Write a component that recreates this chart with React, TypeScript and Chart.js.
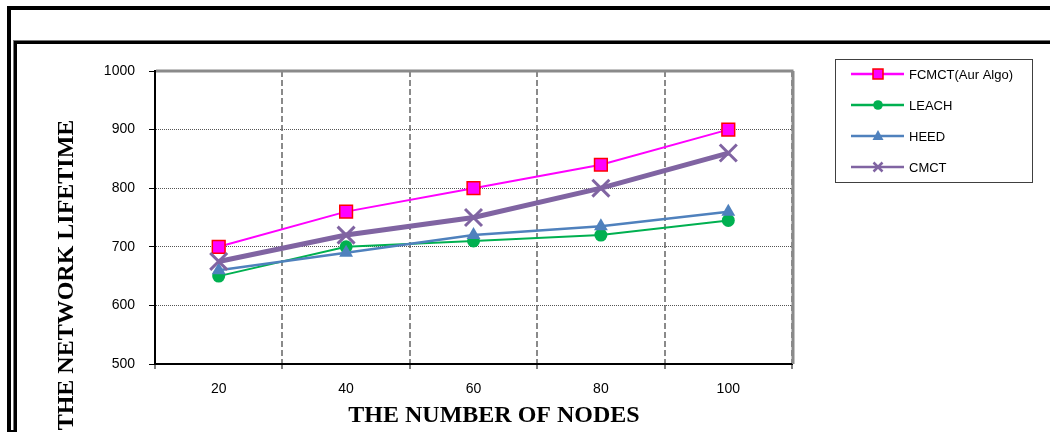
import React, { useEffect, useRef } from 'react';
import { Chart, registerables } from 'chart.js';

Chart.register(...registerables);

// ---- data ----
const nodeCounts = ['20', '40', '60', '80', '100'];
const fcmctValues = [700, 760, 800, 840, 900];
const leachValues = [650, 700, 710, 720, 745];
const heedValues = [660, 690, 720, 735, 760];
const cmctValues = [675, 720, 750, 800, 860];
const yTickValues = [500, 600, 700, 800, 900, 1000];
const seriesNames = ['FCMCT(Aur Algo)', 'LEACH', 'HEED', 'CMCT'];
const xTitle = 'THE NUMBER OF NODES';
const yTitle = 'THE NETWORK LIFETIME';

const W = 1050;
const H = 432;

const COLORS = {
  fcmct: '#FF00FF',
  fcmctEdge: '#FF0000',
  leach: '#00B050',
  heed: '#4F81BD',
  cmct: '#8064A2',
};

function drawMarker(ctx: CanvasRenderingContext2D, kind: string, x: number, y: number, fill: string, stroke: string) {
  ctx.save();
  if (kind === 'rect') {
    ctx.fillStyle = fill;
    ctx.strokeStyle = stroke;
    ctx.lineWidth = 1.5;
    ctx.fillRect(x - 5, y - 5, 10, 10);
    ctx.strokeRect(x - 5, y - 5, 10, 10);
  } else if (kind === 'circle') {
    ctx.fillStyle = fill;
    ctx.beginPath();
    ctx.arc(x, y, 4.8, 0, Math.PI * 2);
    ctx.fill();
  } else if (kind === 'triangle') {
    ctx.fillStyle = fill;
    ctx.beginPath();
    ctx.moveTo(x, y - 6);
    ctx.lineTo(x + 5.5, y + 4);
    ctx.lineTo(x - 5.5, y + 4);
    ctx.closePath();
    ctx.fill();
  } else if (kind === 'cross') {
    ctx.strokeStyle = stroke;
    ctx.lineWidth = 2.5;
    ctx.beginPath();
    ctx.moveTo(x - 4.5, y - 4.5);
    ctx.lineTo(x + 4.5, y + 4.5);
    ctx.moveTo(x + 4.5, y - 4.5);
    ctx.lineTo(x - 4.5, y + 4.5);
    ctx.stroke();
  }
  ctx.restore();
}

const framePlugin = {
  id: 'frames',
  beforeDraw(chart: any) {
    const ctx = chart.ctx as CanvasRenderingContext2D;
    ctx.save();
    ctx.fillStyle = '#ffffff';
    ctx.fillRect(0, 0, W, H);
    // outer frame
    ctx.fillStyle = '#000';
    ctx.fillRect(7, 6, W - 7, 4);
    ctx.fillRect(7, 6, 4, H - 6);
    // inner frame
    ctx.fillStyle = '#777';
    ctx.fillRect(13, 40, W - 13, 1);
    ctx.fillRect(13, 40, 1, H - 40);
    ctx.fillStyle = '#000';
    ctx.fillRect(14, 41, W - 14, 3);
    ctx.fillRect(14, 41, 3, H - 41);
    ctx.fillRect(7, 430, 10, 2);
    ctx.restore();
  },
  beforeDatasetsDraw(chart: any) {
    const ctx = chart.ctx as CanvasRenderingContext2D;
    const a = chart.chartArea;
    ctx.save();
    ctx.strokeStyle = '#8a8a8a';
    ctx.lineWidth = 3;
    ctx.beginPath();
    ctx.moveTo(a.left + 1, a.top);
    ctx.lineTo(a.right + 1.5, a.top);
    ctx.moveTo(a.right + 1, a.top);
    ctx.lineTo(a.right + 1, a.bottom);
    ctx.stroke();
    ctx.strokeStyle = '#000';
    ctx.lineWidth = 2;
    ctx.beginPath();
    ctx.moveTo(a.left, a.top - 1);
    ctx.lineTo(a.left, a.bottom + 1);
    ctx.moveTo(a.left, a.bottom);
    ctx.lineTo(a.right, a.bottom);
    ctx.stroke();
    ctx.restore();
  },
  afterDraw(chart: any) {
    const ctx = chart.ctx as CanvasRenderingContext2D;
    ctx.save();
    // axis titles
    ctx.fillStyle = '#000';
    ctx.font = 'bold 24px "Liberation Serif", "Times New Roman", serif';
    ctx.textAlign = 'center';
    ctx.textBaseline = 'alphabetic';
    ctx.fillText(xTitle, 494, 422);
    ctx.save();
    ctx.translate(73, 275);
    ctx.rotate(-Math.PI / 2);
    ctx.fillText(yTitle, 0, 0);
    ctx.restore();

    // legend
    ctx.strokeStyle = '#404040';
    ctx.lineWidth = 1;
    ctx.strokeRect(835.5, 59.5, 197, 123);
    const rows = [
      { name: seriesNames[0], color: COLORS.fcmct, kind: 'rect', fill: COLORS.fcmct, stroke: COLORS.fcmctEdge, lw: 2.5 },
      { name: seriesNames[1], color: COLORS.leach, kind: 'circle', fill: COLORS.leach, stroke: COLORS.leach, lw: 2.5 },
      { name: seriesNames[2], color: COLORS.heed, kind: 'triangle', fill: COLORS.heed, stroke: COLORS.heed, lw: 2.5 },
      { name: seriesNames[3], color: COLORS.cmct, kind: 'cross', fill: COLORS.cmct, stroke: COLORS.cmct, lw: 2.5 },
    ];
    const ys = [74, 105, 136, 167];
    rows.forEach((r, i) => {
      const y = ys[i];
      ctx.strokeStyle = r.color;
      ctx.lineWidth = r.lw;
      ctx.beginPath();
      ctx.moveTo(851, y);
      ctx.lineTo(904, y);
      ctx.stroke();
      drawMarker(ctx, r.kind, 878, y, r.fill, r.stroke);
      ctx.fillStyle = '#000';
      ctx.font = '13px "Liberation Sans", Arial, sans-serif';
      ctx.textAlign = 'left';
      ctx.textBaseline = 'middle';
      ctx.fillText(r.name, 909, y + 1);
    });
    ctx.restore();
  },
};

export default function App() {
  const ref = useRef<HTMLCanvasElement | null>(null);

  useEffect(() => {
    document.body.style.margin = '0';
    const canvas = ref.current;
    if (!canvas) return;
    const chart = new Chart(canvas, {
      type: 'line',
      data: {
        labels: nodeCounts,
        datasets: [
          {
            label: seriesNames[0],
            data: fcmctValues,
            borderColor: COLORS.fcmct,
            backgroundColor: COLORS.fcmct,
            borderWidth: 2,
            pointStyle: 'rect',
            pointRadius: 9,
            pointBackgroundColor: COLORS.fcmct,
            pointBorderColor: COLORS.fcmctEdge,
            pointBorderWidth: 1.5,
            tension: 0,
            order: 4,
          },
          {
            label: seriesNames[1],
            data: leachValues,
            borderColor: COLORS.leach,
            backgroundColor: COLORS.leach,
            borderWidth: 2,
            pointStyle: 'circle',
            pointRadius: 6.5,
            pointBorderWidth: 0,
            tension: 0,
            order: 3,
          },
          {
            label: seriesNames[2],
            data: heedValues,
            borderColor: COLORS.heed,
            backgroundColor: COLORS.heed,
            borderWidth: 2.5,
            pointStyle: 'triangle',
            pointRadius: 8,
            pointBorderWidth: 0,
            tension: 0,
            order: 2,
          },
          {
            label: seriesNames[3],
            data: cmctValues,
            borderColor: COLORS.cmct,
            backgroundColor: COLORS.cmct,
            borderWidth: 5,
            pointStyle: 'crossRot',
            pointRadius: 12,
            pointBorderWidth: 3,
            tension: 0,
            order: 1,
          },
        ],
      },
      options: {
        responsive: false,
        animation: false,
        devicePixelRatio: 1,
        layout: { padding: { left: 95, top: 71, right: 258, bottom: 28 } },
        plugins: {
          legend: { display: false },
          tooltip: { enabled: false },
          title: { display: false },
        },
        scales: {
          x: {
            type: 'category',
            offset: true,
            grid: {
              offset: true,
              color: '#8a8a8a',
              lineWidth: 2,
              tickLength: 5,
              tickColor: '#000',
              tickWidth: 1,
              tickBorderDash: [],
            },
            border: { display: true, color: '#000', width: 2, dash: [6, 3] },
            ticks: {
              color: '#000',
              padding: 12,
              font: { family: '"Liberation Sans", Arial, sans-serif', size: 14 },
            },
            afterFit(scale: any) {
              scale.height = 40;
            },
          },
          y: {
            min: yTickValues[0],
            max: yTickValues[yTickValues.length - 1],
            afterBuildTicks(scale: any) {
              scale.ticks = yTickValues.map((v) => ({ value: v }));
            },
            grid: {
              color: '#555',
              lineWidth: 1,
              tickLength: 6,
              tickColor: '#000',
              tickWidth: 1,
              tickBorderDash: [],
            },
            border: { display: true, color: '#000', width: 2, dash: [1, 1] },
            ticks: {
              color: '#000',
              padding: 14,
              font: { family: '"Liberation Sans", Arial, sans-serif', size: 14 },
              callback: (v: any) => String(v),
            },
            afterFit(scale: any) {
              scale.width = 60;
            },
          },
        },
      },
      plugins: [framePlugin],
    } as any);
    return () => chart.destroy();
  }, []);

  return (
    <div style={{ position: 'absolute', left: 0, top: 0, width: W, height: H, background: '#fff' }}>
      <canvas ref={ref} width={W} height={H} style={{ display: 'block', width: W, height: H }} />
    </div>
  );
}
